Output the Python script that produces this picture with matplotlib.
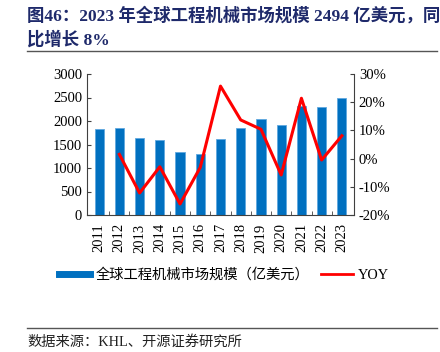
import matplotlib
matplotlib.use("Agg")
import matplotlib.pyplot as plt
from matplotlib.lines import Line2D

years = ["2011", "2012", "2013", "2014", "2015", "2016", "2017",
         "2018", "2019", "2020", "2021", "2022", "2023"]
market = [1830, 1857, 1631, 1589, 1333, 1291, 1620,
          1844, 2035, 1915, 2326, 2305, 2494]
yoy = [None, 1.5, -12.2, -2.9, -16.1, -3.1, 25.7,
       13.7, 10.4, -5.8, 21.4, -0.5, 8.1]

serif = ["Liberation Serif", "Noto Sans CJK SC"]
plt.rcParams["font.family"] = serif

fig = plt.figure(figsize=(4.4, 3.52), dpi=100)
ax = fig.add_axes([87 / 440, 1 - 215 / 352, 267 / 440, 141 / 352])

x = list(range(len(years)))
ax.bar(x, market, width=0.45, color="#0070C0", edgecolor="#5FA8E0",
       linewidth=0.6, zorder=2)
ax.set_xlim(-0.6, len(years) - 0.4)
ax.set_ylim(0, 3000)
ax.set_yticks(range(0, 3001, 500))
ax.set_xticks(x)
ax.set_xticklabels(years, rotation=90, fontsize=10.5)
ax.set_xticks([i + 0.5 for i in x[:-1]], minor=True)
ax.tick_params(axis="x", which="major", length=0, pad=6)
ax.tick_params(axis="x", which="minor", direction="in", length=3, color="#404040")
ax.tick_params(axis="y", direction="in", length=3, labelsize=10.5, color="#404040")
for s in ["top", "right"]:
    ax.spines[s].set_visible(False)
for s in ["left", "bottom"]:
    ax.spines[s].set_color("#404040")

ax2 = ax.twinx()
ax2.plot(x[1:], yoy[1:], color="#FF0000", linewidth=2.2, zorder=3)
ax2.set_ylim(-20, 30)
ax2.set_yticks(range(-20, 31, 10))
ax2.set_yticklabels([f"{v}%" for v in range(-20, 31, 10)])
ax2.tick_params(axis="y", direction="in", length=3, labelsize=10.5, color="#404040")
for s in ["top", "left", "bottom"]:
    ax2.spines[s].set_visible(False)
ax2.spines["right"].set_color("#404040")

# legend
handles = [Line2D([0], [0], color="#0070C0", linewidth=5),
           Line2D([0], [0], color="#FF0000", linewidth=2)]
fig.legend(handles, ["全球工程机械市场规模（亿美元）", "YOY"],
           loc="center", bbox_to_anchor=(224 / 440, 1 - 275 / 352), ncol=2,
           frameon=False, handlelength=2.2, handletextpad=0.4,
           columnspacing=0.8, prop={"family": serif, "size": 10.3})

# title
title_color = "#1F2A6B"
fig.text(27 / 440, 1 - 16 / 352, "图46：2023 年全球工程机械市场规模 2494 亿美元，同",
         fontsize=12.5, fontweight="bold", color=title_color, va="center",
         family=serif)
fig.text(27 / 440, 1 - 40 / 352, "比增长 8%", fontsize=12.5, fontweight="bold",
         color=title_color, va="center", family=serif)
fig.add_artist(Line2D([27 / 440, 437 / 440], [1 - 51 / 352, 1 - 51 / 352],
                      color="#555555", linewidth=1))

# source
fig.add_artist(Line2D([27 / 440, 437 / 440], [1 - 328 / 352, 1 - 328 / 352],
                      color="#555555", linewidth=1))
fig.text(27 / 440, 1 - 342 / 352, "数据来源：KHL、开源证券研究所", fontsize=10.3,
         color="#222222", va="center", family=serif)

fig.savefig("out.png", dpi=100)
